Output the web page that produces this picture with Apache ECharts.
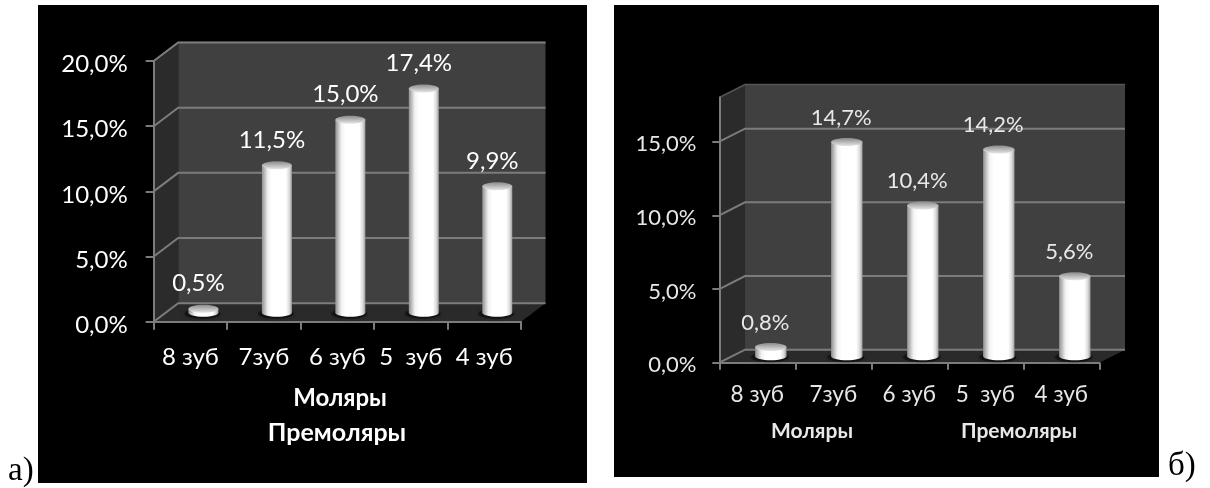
<!DOCTYPE html>
<html>
<head>
<meta charset="utf-8">
<style>
  html, body { margin: 0; padding: 0; background: #fff; }
  #chart { width: 1210px; height: 488px; }
</style>
<script src="https://cdn.jsdelivr.net/npm/echarts@6/dist/echarts.min.js"></script>
</head>
<body>
<div id="chart"></div>
<script>
// Tooth groups along the horizontal axis
const categories = ['8 зуб', '7зуб', '6 зуб', '5  зуб', '4 зуб'];

// Share of cases per tooth, percent
const valuesA = [0.5, 11.5, 15.0, 17.4, 9.9];
const valuesB = [0.8, 14.7, 10.4, 14.2, 5.6];

// Value axis marks
const ticksA = [0, 5, 10, 15, 20];
const ticksB = [0, 5, 10, 15];
const axisMaxA = 20;
const axisMaxB = 18;

const FONT = 'Lato, "Open Sans", sans-serif';
const percent = v => v.toFixed(1).replace('.', ',') + '%';

// Panel box: the chart's walls and floor, projected back by a fixed depth
function frameSeries(gridIndex, ticks, axisMax, dx, dy) {
  return {
    type: 'custom', xAxisIndex: gridIndex, yAxisIndex: gridIndex, z: 1, silent: true, clip: false,
    data: ticks.map(v => [0, v]),
    encode: { x: 0, y: 1 },
    renderItem(params, api) {
      const cs = params.coordSys;
      const L = cs.x, R = cs.x + cs.width;
      const y = api.coord([0, api.value(1)])[1];
      const y0 = api.coord([0, 0])[1];
      const yt = api.coord([0, axisMax])[1];
      const children = [];
      if (params.dataIndex === 0) {
        children.push(
          { type: 'polygon', shape: { points: [[L + dx, yt - dy], [R + dx, yt - dy], [R + dx, y0 - dy], [L + dx, y0 - dy]] }, style: { fill: '#404040' } },
          { type: 'polygon', shape: { points: [[L, yt], [L + dx, yt - dy], [L + dx, y0 - dy], [L, y0]] }, style: { fill: '#2b2b2b' } },
          { type: 'polygon', shape: { points: [[L, y0], [R, y0], [R + dx, y0 - dy], [L + dx, y0 - dy]] }, style: { fill: '#2a2a2a' } },
          { type: 'polyline', shape: { points: [[L, yt], [L + dx, yt - dy], [R + dx, yt - dy]] }, style: { stroke: '#555555', lineWidth: 1.5, fill: null } }
        );
      }
      children.push({
        type: 'polyline',
        shape: { points: [[L, y], [L + dx, y - dy], [R + dx, y - dy]] },
        style: { stroke: '#7c7c7c', lineWidth: 2, fill: null }
      });
      return { type: 'group', children };
    }
  };
}

// Cylinders with their value captions
function barSeries(gridIndex, values, o) {
  return {
    type: 'custom', xAxisIndex: gridIndex, yAxisIndex: gridIndex, z: 3, silent: true, clip: false,
    data: values.map((v, i) => [i, v]),
    encode: { x: 0, y: 1 },
    renderItem(params, api) {
      const i = api.value(0), v = api.value(1);
      const cx = api.coord([i, 0])[0] + o.shiftX;
      const baseY = api.coord([i, 0])[1] - o.shiftY;
      const topY = api.coord([i, v])[1] - o.shiftY + o.topInset;
      const side = {
        type: 'linear', x: 0, y: 0, x2: 1, y2: 0,
        colorStops: [
          { offset: 0, color: '#909090' }, { offset: 0.2, color: '#f2f2f2' },
          { offset: 0.34, color: '#ffffff' }, { offset: 0.8, color: '#ffffff' },
          { offset: 0.92, color: '#d8d8d8' }, { offset: 1, color: '#9a9a9a' }
        ]
      };
      const cap = {
        type: 'linear', x: 0, y: 0, x2: 0, y2: 1,
        colorStops: [{ offset: 0, color: '#8a8a8a' }, { offset: 1, color: '#e6e6e6' }]
      };
      return {
        type: 'group',
        children: [
          { type: 'ellipse', shape: { cx: cx - 1, cy: baseY + 1, rx: o.r + 3, ry: o.ry + 1 },
            style: { fill: 'rgba(0,0,0,0.45)', shadowBlur: 5, shadowColor: 'rgba(0,0,0,0.5)' } },
          { type: 'ellipse', shape: { cx, cy: baseY, rx: o.r, ry: o.ry }, style: { fill: side } },
          { type: 'rect', shape: { x: cx - o.r, y: topY, width: o.r * 2, height: baseY - topY }, style: { fill: side } },
          { type: 'ellipse', shape: { cx, cy: topY, rx: o.r, ry: o.ry }, style: { fill: cap } },
          { type: 'text', x: cx + o.labelDx, y: topY - o.ry - o.labelGap,
            style: { text: percent(v), fill: o.textColor, font: o.labelFont, align: 'center', verticalAlign: 'middle' } }
        ]
      };
    }
  };
}

function valueAxis(gridIndex, ticks, axisMax, o) {
  return {
    type: 'value', gridIndex, min: 0, max: axisMax, interval: 5, z: 2,
    splitLine: { show: false },
    axisLine: { show: true, lineStyle: { color: '#7c7c7c', width: 2 } },
    axisTick: { show: true, length: o.tick, customValues: ticks, lineStyle: { color: '#7c7c7c', width: 2 } },
    axisLabel: {
      customValues: ticks, formatter: percent, margin: o.margin, color: o.textColor,
      fontFamily: FONT, fontSize: o.fontSize, verticalAlign: 'top', lineHeight: o.labelLine
    }
  };
}

function categoryAxis(gridIndex, o) {
  return {
    type: 'category', gridIndex, data: categories, z: 2,
    axisLine: { show: true, lineStyle: { color: '#7c7c7c', width: 2 } },
    axisTick: { show: true, length: o.tick, lineStyle: { color: '#7c7c7c', width: 2 } },
    axisLabel: { color: o.textColor, fontFamily: FONT, fontSize: o.catSize, margin: o.catMargin, interval: 0 }
  };
}

const styleA = {
  textColor: '#ffffff', fontSize: 24, catSize: 24, catMargin: 24, tick: 8, margin: 26, labelLine: 7,
  shiftX: 13, shiftY: 9, topInset: 2.5, r: 15, ry: 4, labelDx: -5, labelGap: 21, labelFont: '24px ' + FONT
};
const styleB = {
  textColor: '#e8e8e8', fontSize: 22, catSize: 22.5, catMargin: 21, tick: 7, margin: 23, labelLine: 5,
  shiftX: 13.5, shiftY: 6.5, topInset: 2.5, r: 15.7, ry: 4, labelDx: -5.5, labelGap: 20.5, labelFont: '22px ' + FONT
};

const caption = (text, x, y, size, fill) => ({
  type: 'text', x, y, z: 5,
  style: { text, fill, font: 'bold ' + size + 'px ' + FONT, align: 'center', verticalAlign: 'middle' }
});
const panelTag = (text, x, y) => ({
  type: 'text', x, y, z: 5,
  style: { text, fill: '#000', font: '33px "Liberation Serif", serif', align: 'left', verticalAlign: 'middle' }
});

const option = {
  animation: false,
  backgroundColor: '#ffffff',
  graphic: [
    { type: 'rect', z: -10, shape: { x: 38, y: 5, width: 549, height: 478 }, style: { fill: '#000' } },
    { type: 'rect', z: -10, shape: { x: 614, y: 5, width: 545, height: 472 }, style: { fill: '#000' } },
    caption('Моляры', 340, 398, 24, '#ffffff'),
    caption('Премоляры', 337, 433, 25, '#ffffff'),
    caption('Моляры', 812, 431, 21, '#e8e8e8'),
    caption('Премоляры', 1019, 431, 21, '#e8e8e8'),
    panelTag('а)', 8, 471),
    panelTag('б)', 1168, 466)
  ],
  grid: [
    { left: 153.7, top: 61, width: 367.3, height: 260.7 },
    { left: 719.3, top: 97.5, width: 380, height: 265.2 }
  ],
  xAxis: [categoryAxis(0, styleA), categoryAxis(1, styleB)],
  yAxis: [valueAxis(0, ticksA, axisMaxA, styleA), valueAxis(1, ticksB, axisMaxB, styleB)],
  series: [
    frameSeries(0, ticksA, axisMaxA, 24.5, 18.5),
    frameSeries(1, ticksB, axisMaxB, 25.7, 13),
    barSeries(0, valuesA, styleA),
    barSeries(1, valuesB, styleB)
  ]
};

echarts.init(document.getElementById('chart')).setOption(option);
</script>
</body>
</html>
